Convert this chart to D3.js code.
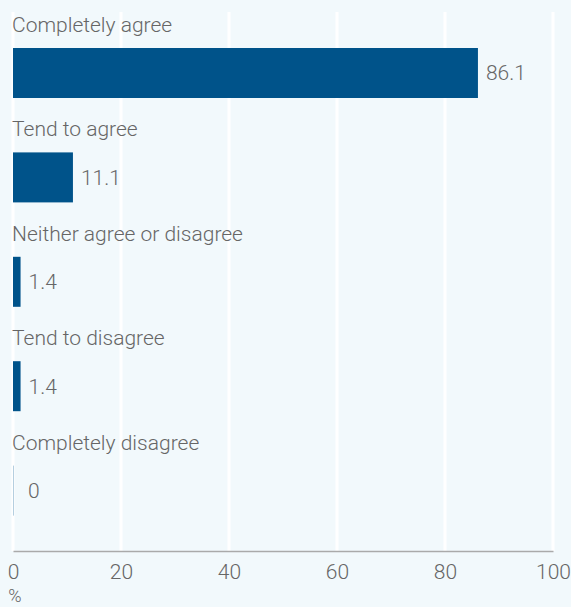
<!DOCTYPE html>
<html><head><meta charset="utf-8">
<script src="https://cdn.jsdelivr.net/npm/d3@7"></script>
<style>
html,body{margin:0;padding:0;background:#f2f9fc;}
svg{display:block;}
text{font-family:Roboto,"Noto Sans",sans-serif;font-weight:300;fill:#666;}
</style></head>
<body>
<script>
const categories = ["Completely agree","Tend to agree","Neither agree or disagree","Tend to disagree","Completely disagree"];
const values = [86.1, 11.1, 1.4, 1.4, 0];
const ticks = [0,20,40,60,80,100];
const unitLabel = "%";

const W = 571, H = 607;
const svg = d3.select("body").append("svg").attr("width", W).attr("height", H);
svg.append("rect").attr("width", W).attr("height", H).attr("fill", "#f2f9fc");

const x = d3.scaleLinear().domain([0,100]).range([13,553]);
const y = d3.scaleBand().domain(categories).range([12, 534]).paddingInner(0).paddingOuter(0);
const barH = 50;
const plotTop = 12, plotBottom = 551;
const fs = 21;

// gridlines
svg.append("g").selectAll("line").data(ticks).join("line")
  .attr("x1", d=>x(d)).attr("x2", d=>x(d))
  .attr("y1", plotTop).attr("y2", plotBottom)
  .attr("stroke", "#fff").attr("stroke-width", 3);

const barTop = c => y(c) + 36;

// category labels
svg.append("g").selectAll("text").data(categories).join("text")
  .attr("x", 12).attr("y", c => barTop(c) - 16)
  .attr("font-size", fs).text(c=>c);

// bars
svg.append("g").selectAll("rect").data(values).join("rect")
  .attr("x", x(0)).attr("y", (d,i)=>barTop(categories[i]))
  .attr("width", d => Math.max(x(d)-x(0), 0))
  .attr("height", barH).attr("fill", "#00538a");

// zero bar marker
svg.append("g").selectAll("line").data(values.filter(v=>v===0)).join("line")
  .attr("x1", x(0)+0.5).attr("x2", x(0)+0.5)
  .attr("y1", (d)=>barTop(categories[values.indexOf(d)]))
  .attr("y2", (d)=>barTop(categories[values.indexOf(d)])+barH)
  .attr("stroke", "#b5cfe0").attr("stroke-width", 1);

// value labels
svg.append("g").selectAll("text").data(values).join("text")
  .attr("x", d => Math.max(x(d), x(0)+7) + 8)
  .attr("y", (d,i)=>barTop(categories[i]) + barH/2)
  .attr("dy", "0.35em").attr("font-size", fs)
  .text(d => d3.format("")(d));

// axis
const axis = d3.axisBottom(x).tickValues(ticks).tickSize(0).tickPadding(13).tickFormat(d3.format("d"));
const ag = svg.append("g").attr("transform", `translate(0,${plotBottom})`).call(axis);
ag.select(".domain").attr("stroke", "#aaa").attr("stroke-width", 1.5);
ag.selectAll("text").attr("font-size", fs).attr("fill", "#666").attr("font-family", "Roboto, sans-serif").attr("font-weight", 300);

svg.append("text").attr("x", x(0)+2).attr("y", 602).attr("text-anchor","middle").attr("font-size", fs-3).text(unitLabel);
</script>
</body></html>
